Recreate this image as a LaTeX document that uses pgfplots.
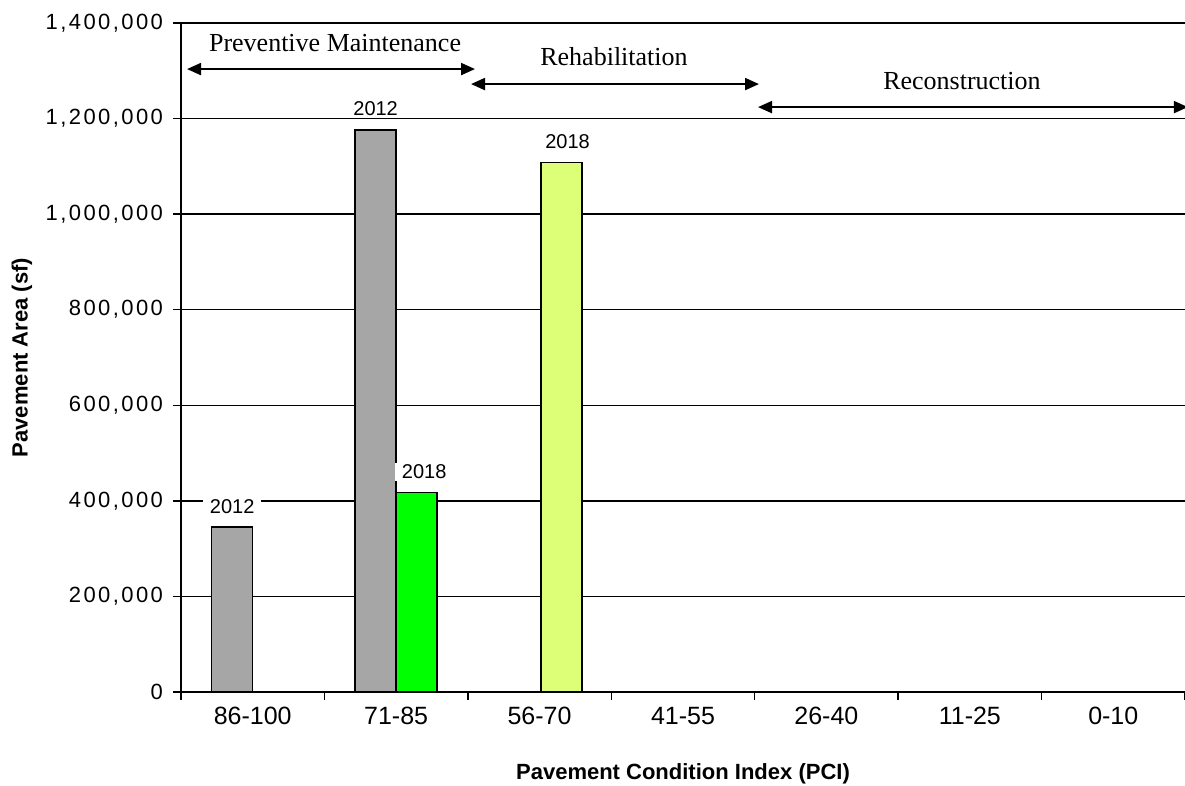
\documentclass[border=0pt]{standalone}
\usepackage{fontspec}
\setmainfont{Liberation Sans}
\newfontfamily\timesfont{Liberation Serif}
\usepackage{pgfplots}
\pgfplotsset{compat=1.18}
\usetikzlibrary{arrows.meta}
\definecolor{bargrey}{HTML}{A6A6A6}
\definecolor{bargreen}{HTML}{00FF00}
\definecolor{baryellow}{HTML}{DDFF77}

\begin{document}
\begin{tikzpicture}
\useasboundingbox (-90.5pt,-47pt) rectangle (502pt,346pt);
\begin{axis}[
    scale only axis,
    width=502pt, height=334.5pt,
    at={(0,0)}, anchor=south west,
    xmin=-0.5, xmax=6.5,
    ymin=0, ymax=1400000,
    axis x line=bottom, axis y line=left,
    axis line style={-, black, line width=0.75pt},
    x axis line style={line width=1.25pt},
    ytick={0,200000,...,1400000},
    ymajorgrids,
    grid style={black, line width=0.75pt},
    scaled y ticks=false,
    /pgf/number format/.cd, fixed, 1000 sep={,}, assume math mode=true,
    /pgfplots/.cd,
    xtick={0,...,6},
    xticklabels={86-100,71-85,56-70,41-55,26-40,11-25,0-10},
    minor xtick={-0.5,0.5,...,6.5},
    tick align=outside,
    major tick length=4pt, minor tick length=4pt,
    tick style={black, line width=0.75pt},
    major x tick style={draw=none},
    yticklabel style={font=\fontsize{11}{13}\selectfont\addfontfeatures{LetterSpace=11},
        anchor=east, xshift=-1.5pt},
    xticklabel style={font=\fontsize{12.5}{15}\selectfont},
    xlabel={Pavement Condition Index (PCI)},
    ylabel={Pavement Area (sf)},
    label style={font=\bfseries\fontsize{11}{13}\selectfont},
    xlabel style={at={(axis description cs:0.5,-0.1226)}, anchor=center},
    ylabel style={at={(axis description cs:-0.1584,0.5)}, anchor=center},
    every node near coord/.append style={font=\fontsize{10}{12}\selectfont,
        fill=white, inner xsep=3.5pt, inner ysep=1pt, anchor=center, yshift=10.5pt},
]
% 2012
\addplot[ybar, bar width=20.5pt, bar shift=-10.25pt, fill=bargrey, draw=black,
    line width=0.75pt, nodes near coords={2012},
    every node near coord/.append style={xshift=-10.25pt}]
    coordinates {(0,345000) (1,1176000)};
% 2018
\addplot[ybar, bar width=20.5pt, bar shift=10.25pt, fill=bargreen, draw=black,
    line width=0.75pt, nodes near coords={2018},
    every node near coord/.append style={xshift=14pt}]
    coordinates {(1,417000)};
\addplot[ybar, bar width=20.5pt, bar shift=11pt, fill=baryellow, draw=black,
    line width=0.75pt, nodes near coords={2018},
    every node near coord/.append style={xshift=14pt}]
    coordinates {(2,1108000)};

\tikzset{rng/.style={{Triangle[length=7pt,width=6pt]}-{Triangle[length=7pt,width=6pt]}, line width=1pt, black}}
\draw[rng] (axis cs:-0.458,1303600) -- (axis cs:1.550,1303600);
\draw[rng] (axis cs:1.522,1272200) -- (axis cs:3.530,1272200);
\draw[rng] (axis cs:3.523,1224000) -- (axis cs:6.52,1224000);
\node[font=\timesfont\fontsize{13}{15}\selectfont] at (axis cs:0.574,1358000) {Preventive Maintenance};
\node[font=\timesfont\fontsize{13}{15}\selectfont] at (axis cs:2.519,1328700) {Rehabilitation};
\node[font=\timesfont\fontsize{13}{15}\selectfont] at (axis cs:4.945,1278500) {Reconstruction};
\end{axis}
\end{tikzpicture}
\end{document}
